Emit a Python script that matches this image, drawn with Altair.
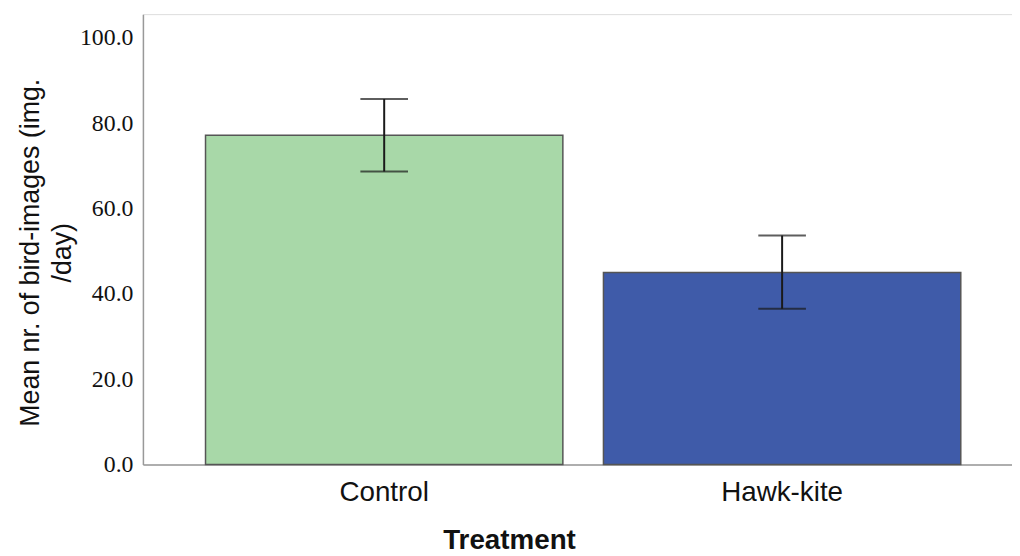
import altair as alt
import pandas as pd

treatments = ["Control", "Hawk-kite"]
means = [77.2, 45.0]
lower = [68.7, 36.5]
upper = [85.7, 53.7]
bar_colors = ["#a8d8a8", "#3f5ba9"]
y_ticks = [0, 20, 40, 60, 80, 100]

df = pd.DataFrame({"treatment": treatments, "mean": means, "lower": lower, "upper": upper})

x_enc = alt.X(
    "treatment:N",
    scale=alt.Scale(domain=treatments, paddingInner=0.102, paddingOuter=0.143, align=0.55),
    axis=alt.Axis(
        title="Treatment",
        titleFont="Liberation Sans",
        titleFontSize=28,
        titleFontWeight="bold",
        titleColor="#111",
        titleX=369,
        titleY=85,
        titleBaseline="alphabetic",
        titleAlign="center",
        labelFont="Liberation Sans",
        labelFontSize=28,
        labelColor="#111",
        labelAngle=0,
        labelBaseline="alphabetic",
        labelPadding=36,
        ticks=False,
        tickSize=0,
        domainColor="#999",
        domainWidth=1.5,
        grid=False,
    ),
)

y_scale = alt.Scale(domain=[0, 105.6], nice=False, zero=True)
y_axis = alt.Axis(
    title=["Mean nr. of bird-images (img.", "/day)"],
    titleFont="Liberation Sans",
    titleFontSize=27,
    titleFontWeight="normal",
    titleColor="#111",
    titleAngle=-90,
    titleX=-113,
    titleY=240,
    titleAlign="center",
    titleBaseline="middle",
    titleLineHeight=32,
    values=y_ticks,
    format=".1f",
    labelFont="Liberation Serif",
    labelFontSize=24,
    labelColor="#111",
    labelPadding=10,
    ticks=False,
    tickSize=0,
    domainColor="#999",
    domainWidth=1.5,
    grid=False,
)

base = alt.Chart(df)

bars = base.mark_bar(stroke="#555", strokeWidth=1.5).encode(
    x=x_enc,
    y=alt.Y("mean:Q", scale=y_scale, axis=y_axis),
    color=alt.Color("treatment:N", scale=alt.Scale(domain=treatments, range=bar_colors), legend=None),
)

rule = base.mark_rule(color="#1a1a1a", strokeWidth=2).encode(
    x="treatment:N",
    y=alt.Y("lower:Q", scale=y_scale),
    y2="upper:Q",
)

cap_hi = base.mark_tick(color="#1a1a1a", size=48, thickness=2, orient="horizontal").encode(
    x="treatment:N",
    y=alt.Y("upper:Q", scale=y_scale),
)
cap_lo = base.mark_tick(color="#1a1a1a", size=48, thickness=2, orient="horizontal").encode(
    x="treatment:N",
    y=alt.Y("lower:Q", scale=y_scale),
)

chart = (
    alt.layer(bars, rule, cap_hi, cap_lo)
    .properties(
        width=876,
        height=454,
        autosize=alt.AutoSizeParams(type="none"),
        padding={"left": 136, "top": 4, "right": 0, "bottom": 90},
    )
    .configure_view(stroke=None)
    .configure(background="white")
)

chart.save("out.html", embed_options={"renderer": "svg", "actions": False})
